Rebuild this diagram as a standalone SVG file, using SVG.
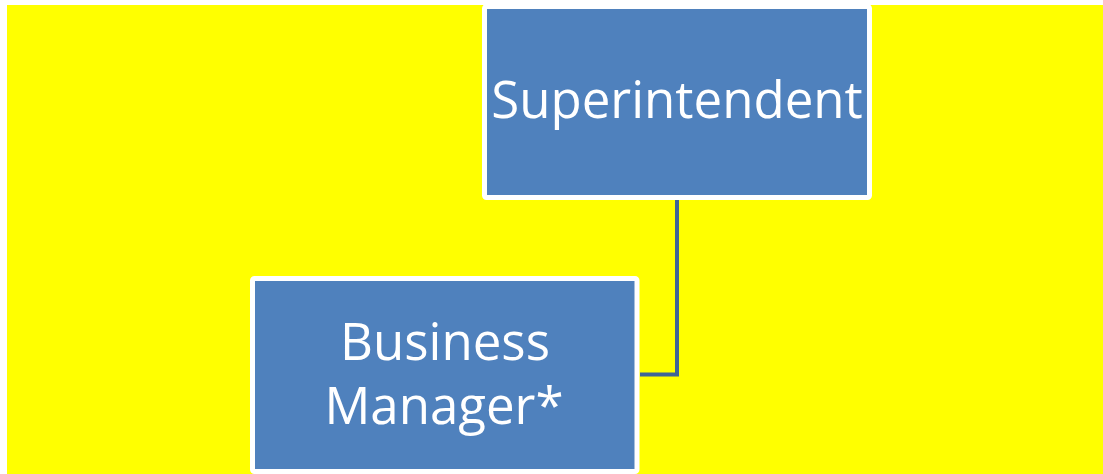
<svg xmlns="http://www.w3.org/2000/svg" width="1103" height="474" viewBox="0 0 1103 474">
<style>
.box{fill:#4F81BD;stroke:#FFFFFF;stroke-width:5}
.lbl{fill:#FFFFFF;font-family:"Open Sans","Liberation Sans",sans-serif;font-size:51px;text-anchor:middle}
.conn{fill:none;stroke:#3F6597;stroke-width:4}
</style>
<rect x="0" y="0" width="1103" height="474" fill="#FFFFFF"/>
<rect x="7" y="5" width="1096" height="469" fill="#FFFF00"/>
<g id="connectors">
<path class="conn" d="M677,200 V374.5 H640"/>
</g>
<g id="superintendent">
<rect class="box" x="484.5" y="6.5" width="385" height="191" rx="2"/>
<text class="lbl" x="677" y="118">Superintendent</text>
</g>
<g id="business-manager">
<rect class="box" x="252.5" y="278.5" width="384.5" height="193" rx="2"/>
<text class="lbl" x="445" y="360">Business</text>
<text class="lbl" x="444" y="424">Manager*</text>
</g>
</svg>
